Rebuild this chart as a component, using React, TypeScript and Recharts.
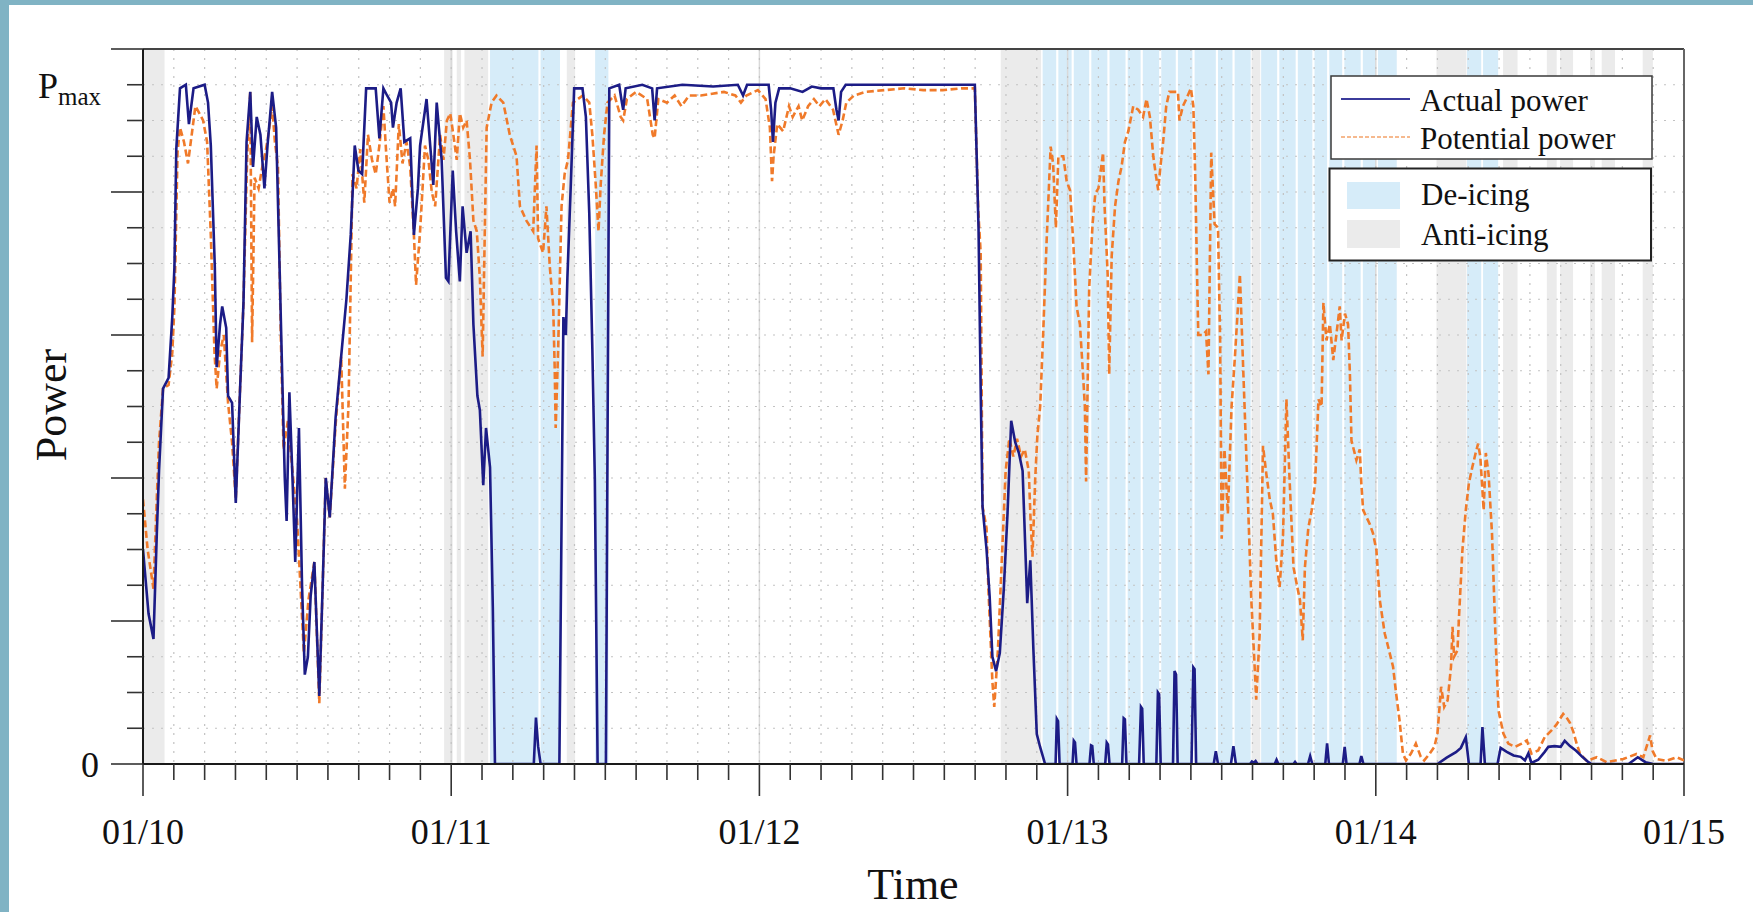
import { LineChart, Line, XAxis, YAxis, CartesianGrid, ReferenceArea, ReferenceLine } from 'recharts';

// x = days since 01/10 00:00, y = power in grid units (Pmax sits at 19, frame top at 20)
const dayLabels = ['01/10', '01/11', '01/12', '01/13', '01/14', '01/15'];
const PMAX = 19;
const Y_TOP = 20;

const actualPower: [number, number][] = [
  [0, 6.0], [0.018, 4.2], [0.034, 3.5], [0.045, 6.5], [0.052, 8.2], [0.065, 10.5], [0.083, 10.8], [0.095, 12.5],
  [0.102, 13.9], [0.108, 17.2], [0.12, 18.9], [0.139, 19.0], [0.149, 17.9], [0.164, 18.9], [0.2, 19.0], [0.211, 18.5],
  [0.22, 17.3], [0.233, 13.9], [0.239, 11.1], [0.25, 12.3], [0.257, 12.8], [0.27, 12.2], [0.276, 10.3], [0.289, 10.1],
  [0.301, 7.3], [0.315, 10.5], [0.326, 12.9], [0.336, 17.4], [0.348, 18.8], [0.357, 16.7], [0.369, 18.1], [0.381, 17.6],
  [0.394, 16.1], [0.404, 17.3], [0.419, 18.8], [0.432, 17.8], [0.44, 15.0], [0.453, 10.4], [0.46, 8.0], [0.466, 6.8],
  [0.475, 10.4], [0.485, 8.0], [0.494, 5.65], [0.506, 9.4], [0.516, 5.0], [0.525, 2.5], [0.535, 3.0], [0.544, 4.7],
  [0.556, 5.65], [0.565, 3.5], [0.572, 1.9], [0.583, 5.0], [0.593, 8.0], [0.606, 6.9], [0.625, 9.7], [0.643, 11.4],
  [0.66, 13.0], [0.674, 14.8], [0.687, 17.3], [0.699, 16.6], [0.711, 16.5], [0.724, 18.9], [0.755, 18.9], [0.767, 17.5],
  [0.78, 18.9], [0.792, 18.7], [0.805, 18.5], [0.811, 17.8], [0.823, 18.5], [0.836, 18.9], [0.848, 17.4], [0.867, 17.5],
  [0.879, 14.8], [0.892, 16.1], [0.899, 17.3], [0.92, 18.6], [0.942, 16.2], [0.953, 18.5], [0.969, 16.9], [0.983, 13.6],
  [0.991, 13.5], [1.005, 16.6], [1.016, 14.9], [1.028, 13.5], [1.037, 15.6], [1.05, 14.3], [1.063, 14.9], [1.072, 12.3],
  [1.085, 10.3], [1.093, 9.9], [1.104, 7.8], [1.113, 9.4], [1.126, 8.3], [1.135, 4.4], [1.142, 0], [1.268, 0],
  [1.275, 1.3], [1.282, 0.5], [1.29, 0], [1.351, 0], [1.364, 12.5], [1.372, 12.0], [1.377, 13.6], [1.388, 16.2],
  [1.399, 18.9], [1.426, 18.9], [1.437, 18.1], [1.448, 15.4], [1.458, 11.6], [1.466, 8.0], [1.475, 0], [1.502, 0],
  [1.513, 18.9], [1.545, 19.0], [1.552, 18.6], [1.558, 18.3], [1.566, 18.9], [1.62, 19.0], [1.652, 18.9], [1.66, 18.0],
  [1.668, 18.9], [1.75, 19.0], [1.85, 18.95], [1.93, 19.0], [1.947, 18.7], [1.96, 19.0], [2.03, 19.0], [2.038, 18.3],
  [2.044, 17.4], [2.052, 18.5], [2.064, 18.9], [2.1, 18.9], [2.14, 18.8], [2.17, 18.95], [2.2, 18.9], [2.24, 18.9],
  [2.25, 18.3], [2.257, 18.0], [2.265, 18.8], [2.28, 19.0], [2.699, 19.0], [2.711, 15.0], [2.718, 10.5], [2.724, 7.2],
  [2.737, 6.0], [2.747, 4.7], [2.756, 3.0], [2.768, 2.6], [2.78, 3.1], [2.793, 4.9], [2.805, 7.0], [2.817, 9.6],
  [2.83, 9.0], [2.842, 8.7], [2.854, 8.2], [2.869, 4.5], [2.879, 5.7], [2.889, 3.2], [2.9, 0.84], [2.911, 0.47],
  [2.927, 0], [2.961, 0], [2.965, 1.26], [2.969, 1.2], [2.974, 0], [3.016, 0], [3.02, 0.65], [3.024, 0.6],
  [3.029, 0], [3.071, 0], [3.076, 0.52], [3.08, 0.5], [3.085, 0], [3.122, 0], [3.127, 0.6], [3.131, 0.55],
  [3.136, 0], [3.177, 0], [3.182, 1.28], [3.186, 1.25], [3.191, 0], [3.232, 0], [3.238, 1.6], [3.242, 1.55],
  [3.247, 0], [3.288, 0], [3.293, 2.0], [3.297, 1.95], [3.302, 0], [3.342, 0], [3.347, 2.6], [3.352, 2.5],
  [3.357, 0], [3.402, 0], [3.408, 2.7], [3.412, 2.65], [3.417, 0], [3.474, 0], [3.481, 0.36], [3.488, 0],
  [3.53, 0], [3.538, 0.5], [3.546, 0], [3.592, 0], [3.598, 0.07], [3.604, 0.03], [3.61, 0.08], [3.616, 0],
  [3.672, 0], [3.678, 0.12], [3.684, 0], [3.733, 0], [3.738, 0.06], [3.743, 0], [3.78, 0], [3.787, 0.22],
  [3.794, 0], [3.836, 0], [3.842, 0.58], [3.848, 0], [3.893, 0], [3.899, 0.48], [3.905, 0], [3.947, 0],
  [3.953, 0.22], [3.96, 0], [4.2, 0], [4.23, 0.18], [4.26, 0.33], [4.276, 0.45], [4.292, 0.75], [4.302, 0],
  [4.34, 0], [4.346, 1.03], [4.354, 0], [4.395, 0], [4.405, 0.45], [4.425, 0.34], [4.447, 0.24], [4.47, 0.2],
  [4.484, 0.1], [4.495, 0.3], [4.505, 0.03], [4.527, 0.12], [4.548, 0.34], [4.56, 0.48], [4.58, 0.5], [4.6, 0.48],
  [4.613, 0.65], [4.63, 0.5], [4.65, 0.37], [4.67, 0.2], [4.69, 0.05], [4.7, 0], [4.82, 0], [4.85, 0.19],
  [4.875, 0.05], [4.9, 0], [5, 0],
];

const potentialPower: [number, number][] = [
  [0, 7.4], [0.015, 6.0], [0.034, 4.9], [0.045, 7.5], [0.052, 9.0], [0.065, 10.5], [0.083, 10.6], [0.095, 11.5],
  [0.102, 12.8], [0.112, 17.1], [0.12, 17.8], [0.133, 17.4], [0.146, 16.8], [0.158, 17.6], [0.17, 18.4], [0.183, 18.2],
  [0.195, 18.0], [0.208, 17.4], [0.22, 14.8], [0.232, 11.5], [0.239, 10.5], [0.25, 11.5], [0.262, 12.0], [0.276, 10.1],
  [0.289, 9.0], [0.301, 7.4], [0.315, 10.5], [0.326, 12.9], [0.338, 17.0], [0.348, 18.8], [0.354, 11.8], [0.362, 16.4],
  [0.375, 16.1], [0.387, 16.7], [0.397, 17.1], [0.405, 17.5], [0.419, 18.4], [0.428, 17.4], [0.438, 16.7], [0.447, 12.0],
  [0.456, 8.8], [0.47, 9.6], [0.5, 6.8], [0.522, 3.1], [0.537, 4.6], [0.556, 5.65], [0.572, 1.7], [0.593, 8.0],
  [0.606, 6.9], [0.625, 9.5], [0.643, 11.4], [0.655, 7.7], [0.667, 10.1], [0.68, 16.5], [0.693, 16.1], [0.705, 17.2],
  [0.718, 15.7], [0.73, 17.6], [0.743, 16.9], [0.755, 16.5], [0.767, 17.3], [0.78, 18.4], [0.789, 17.1], [0.8, 15.7],
  [0.811, 16.1], [0.818, 15.6], [0.83, 17.9], [0.842, 16.8], [0.855, 17.4], [0.867, 16.7], [0.879, 14.8], [0.886, 13.4],
  [0.899, 14.9], [0.915, 17.3], [0.926, 16.9], [0.937, 16.0], [0.948, 15.6], [0.964, 17.6], [0.975, 16.9], [0.986, 18.0],
  [0.997, 18.2], [1.007, 17.6], [1.018, 16.9], [1.028, 18.2], [1.039, 17.8], [1.05, 18.0], [1.061, 16.9], [1.072, 15.2],
  [1.083, 14.9], [1.093, 13.6], [1.102, 11.4], [1.109, 14.9], [1.115, 17.8], [1.131, 18.5], [1.147, 18.7], [1.169, 18.5],
  [1.19, 17.6], [1.212, 17.0], [1.223, 15.6], [1.244, 15.2], [1.266, 14.9], [1.277, 17.3], [1.282, 14.7], [1.298, 14.3],
  [1.309, 15.6], [1.32, 13.9], [1.331, 12.8], [1.336, 11.0], [1.339, 9.4], [1.347, 11.6], [1.358, 15.6], [1.368, 16.5],
  [1.379, 16.9], [1.395, 18.5], [1.427, 18.7], [1.448, 18.5], [1.458, 17.6], [1.469, 16.2], [1.478, 14.9], [1.485, 16.2],
  [1.496, 17.6], [1.507, 18.5], [1.53, 18.7], [1.55, 18.1], [1.558, 18.0], [1.57, 18.6], [1.6, 18.8], [1.636, 18.6],
  [1.654, 17.6], [1.66, 17.5], [1.672, 18.6], [1.7, 18.5], [1.725, 18.7], [1.747, 18.4], [1.772, 18.7], [1.81, 18.7],
  [1.847, 18.75], [1.885, 18.8], [1.922, 18.7], [1.94, 18.5], [1.958, 18.7], [1.995, 18.85], [2.02, 18.6], [2.034, 17.8],
  [2.041, 16.3], [2.046, 17.0], [2.058, 17.9], [2.077, 17.7], [2.096, 18.4], [2.108, 18.1], [2.127, 18.4], [2.139, 18.0],
  [2.158, 18.4], [2.177, 18.6], [2.195, 18.4], [2.214, 18.6], [2.239, 18.3], [2.257, 17.6], [2.27, 18.0], [2.282, 18.5],
  [2.307, 18.7], [2.345, 18.8], [2.407, 18.85], [2.47, 18.9], [2.532, 18.85], [2.595, 18.85], [2.657, 18.9], [2.699, 18.9],
  [2.71, 15.5], [2.718, 14.3], [2.724, 7.2], [2.737, 6.6], [2.743, 4.9], [2.756, 2.3], [2.762, 1.6], [2.774, 3.2],
  [2.787, 5.8], [2.799, 8.2], [2.811, 9.1], [2.824, 8.6], [2.836, 9.1], [2.849, 8.6], [2.861, 8.8], [2.874, 8.2],
  [2.88, 6.8], [2.886, 5.8], [2.895, 8.0], [2.902, 9.2], [2.911, 10.0], [2.921, 12.1], [2.932, 14.65], [2.945, 17.27],
  [2.953, 16.8], [2.962, 15.0], [2.97, 17.0], [2.986, 17.0], [2.997, 16.3], [3.008, 16.05], [3.018, 14.65], [3.029, 12.8],
  [3.04, 12.3], [3.05, 10.9], [3.056, 10.0], [3.06, 7.9], [3.07, 13.3], [3.081, 15.1], [3.09, 15.96], [3.1, 16.1],
  [3.115, 17.1], [3.12, 15.6], [3.13, 13.7], [3.135, 10.9], [3.143, 14.2], [3.154, 15.6], [3.165, 16.3], [3.175, 16.7],
  [3.186, 17.4], [3.197, 17.7], [3.213, 18.4], [3.229, 18.3], [3.245, 18.1], [3.256, 18.6], [3.267, 18.1], [3.278, 17.0],
  [3.286, 16.5], [3.294, 16.05], [3.301, 16.7], [3.31, 17.4], [3.32, 18.4], [3.33, 18.8], [3.347, 18.8], [3.358, 18.8],
  [3.363, 18.0], [3.374, 18.4], [3.385, 18.6], [3.4, 18.9], [3.408, 18.4], [3.414, 16.5], [3.42, 13.7], [3.424, 12.0],
  [3.438, 12.0], [3.449, 12.1], [3.457, 10.9], [3.466, 17.1], [3.477, 15.1], [3.488, 15.0], [3.495, 11.8], [3.5, 6.3],
  [3.509, 8.8], [3.52, 7.0], [3.532, 10.0], [3.543, 11.4], [3.559, 13.7], [3.57, 11.0], [3.585, 7.4], [3.596, 4.6],
  [3.607, 2.7], [3.612, 1.8], [3.623, 3.6], [3.634, 8.9], [3.645, 8.1], [3.656, 7.4], [3.666, 7.0], [3.677, 5.7],
  [3.688, 4.95], [3.699, 6.4], [3.71, 10.2], [3.72, 8.0], [3.733, 5.5], [3.743, 5.05], [3.754, 4.58], [3.763, 3.46],
  [3.77, 5.5], [3.781, 6.6], [3.792, 7.1], [3.803, 7.85], [3.814, 10.2], [3.824, 10.0], [3.83, 12.9], [3.84, 11.85],
  [3.851, 12.3], [3.862, 11.3], [3.872, 12.0], [3.883, 12.8], [3.889, 11.85], [3.9, 12.6], [3.91, 12.3], [3.916, 10.9],
  [3.921, 9.05], [3.937, 8.5], [3.948, 8.8], [3.953, 7.85], [3.959, 7.1], [3.981, 6.7], [3.991, 6.45], [4.002, 5.98],
  [4.013, 4.58], [4.029, 3.65], [4.04, 3.28], [4.056, 2.72], [4.066, 1.97], [4.077, 1.22], [4.088, 0.29], [4.098, 0.1],
  [4.114, 0.29], [4.13, 0.57], [4.146, 0.2], [4.157, 0.1], [4.175, 0.29], [4.19, 0.48], [4.2, 0.85], [4.212, 2.16],
  [4.222, 1.6], [4.233, 1.78], [4.244, 2.72], [4.249, 3.84], [4.254, 3.0], [4.265, 3.18], [4.27, 4.12], [4.281, 5.98],
  [4.292, 7.1], [4.302, 7.85], [4.313, 8.3], [4.324, 8.7], [4.332, 8.96], [4.339, 8.6], [4.35, 7.1], [4.357, 8.7],
  [4.366, 8.1], [4.377, 6.45], [4.388, 3.65], [4.398, 1.5], [4.414, 0.85], [4.43, 0.57], [4.452, 0.48], [4.473, 0.57],
  [4.49, 0.66], [4.505, 0.29], [4.527, 0.38], [4.548, 0.75], [4.57, 0.94], [4.586, 1.1], [4.608, 1.4], [4.619, 1.3],
  [4.63, 1.15], [4.641, 0.9], [4.652, 0.56], [4.663, 0.28], [4.684, 0.09], [4.717, 0.19], [4.749, 0.05], [4.803, 0.14],
  [4.846, 0.28], [4.868, 0.19], [4.89, 0.8], [4.898, 0.37], [4.911, 0.14], [4.943, 0.09], [4.976, 0.19], [5, 0.1],
];

const deIcing: [number, number][] = [
  [1.126, 1.283], [1.29, 1.353], [1.467, 1.51],
  [2.919, 2.963], [2.97, 3.013], [3.02, 3.07], [3.077, 3.129], [3.136, 3.188], [3.195, 3.237], [3.244, 3.297],
  [3.304, 3.351], [3.358, 3.405], [3.412, 3.481], [3.488, 3.535], [3.542, 3.594], [3.628, 3.68], [3.687, 3.74],
  [3.747, 3.794], [3.801, 3.842], [3.849, 3.891], [3.898, 3.951], [3.958, 4.0], [4.007, 4.068],
  [4.296, 4.342], [4.348, 4.397],
];

const antiIcing: [number, number][] = [
  [0, 0.07], [0.977, 1.005], [1.018, 1.032], [1.043, 1.12], [1.375, 1.402], [2.783, 2.914], [3.597, 3.625],
  [4.197, 4.294], [4.413, 4.46], [4.555, 4.587], [4.598, 4.64], [4.695, 4.711], [4.733, 4.776], [4.866, 4.899],
];

const actualData = actualPower.map(([t, p]) => ({ t, p }));
const potentialData = potentialPower.map(([t, p]) => ({ t, p }));
const xTicks = Array.from({ length: 51 }, (_, i) => i / 10);
const yTicks = Array.from({ length: Y_TOP + 1 }, (_, i) => i);

const BLUE = '#1c1c86';
const ORANGE = '#f07a2a';
const DEICE = '#d6ecf9';
const ANTI = '#ebebeb';
const FONT = "'Liberation Serif', 'Times New Roman', serif";

const XTick = (props: any) => {
  const { x, y, payload } = props;
  const v = payload.value as number;
  const major = Math.abs(v - Math.round(v)) < 1e-6;
  return (
    <g>
      <line x1={x} x2={x} y1={y} y2={y + (major ? 32 : 16)} stroke="#333" strokeWidth={1.6} />
      {major && (
        <text x={x} y={y + 80} textAnchor="middle" fontSize={36} fill="#111" fontFamily={FONT}>
          {dayLabels[Math.round(v)]}
        </text>
      )}
    </g>
  );
};

const YTick = (props: any) => {
  const { x, y, payload } = props;
  const v = payload.value as number;
  const major = v % 4 === 0;
  return (
    <g>
      <line x1={x - (major ? 32 : 16)} x2={x} y1={y} y2={y} stroke="#333" strokeWidth={1.6} />
      {v === 0 && (
        <text x={x - 44} y={y + 13} textAnchor="end" fontSize={36} fill="#111" fontFamily={FONT}>0</text>
      )}
      {v === PMAX && (
        <text x={x - 105} y={y + 13} fill="#111" fontFamily={FONT}>
          <tspan fontSize={36}>P</tspan>
          <tspan fontSize={25} dy={7}>max</tspan>
        </text>
      )}
    </g>
  );
};

export default function App() {
  return (
    <div style={{ position: 'fixed', left: 0, top: 0, width: 1753, height: 912, background: '#80b3c4' }}>
      <div style={{ position: 'absolute', left: 9, top: 5, width: 1744, height: 907, background: '#fff' }} />
      <div style={{ position: 'absolute', left: 0, top: 0 }}>
        <LineChart width={1753} height={912} margin={{ top: 49, right: 69, bottom: 48, left: 43 }}>
          {antiIcing.map(([a, b], i) => (
            <ReferenceArea key={`a${i}`} x1={a} x2={b} y1={0} y2={Y_TOP} fill={ANTI} fillOpacity={1} stroke="none" zIndex={-150} />
          ))}
          {deIcing.map(([a, b], i) => (
            <ReferenceArea key={`d${i}`} x1={a} x2={b} y1={0} y2={Y_TOP} fill={DEICE} fillOpacity={1} stroke="none" zIndex={-150} />
          ))}
          {[1, 2, 3, 4].map((d) => (
            <ReferenceLine key={`day${d}`} x={d} stroke="#d9d9d9" strokeWidth={1.5} zIndex={-120} />
          ))}
          <CartesianGrid stroke="#c2c2c2" strokeDasharray="2 7" strokeWidth={1.2} />
          <XAxis
            type="number"
            dataKey="t"
            domain={[0, 5]}
            ticks={xTicks}
            interval={0}
            tick={<XTick />}
            tickLine={false}
            tickSize={0}
            tickMargin={0}
            height={100}
            axisLine={{ stroke: '#1a1a1a', strokeWidth: 2 }}
            allowDataOverflow
          />
          <YAxis
            type="number"
            domain={[0, Y_TOP]}
            ticks={yTicks}
            interval={0}
            tick={<YTick />}
            tickLine={false}
            tickSize={0}
            tickMargin={0}
            width={100}
            axisLine={{ stroke: '#1a1a1a', strokeWidth: 2 }}
            allowDataOverflow
          />
          <ReferenceLine y={Y_TOP} stroke="#444" strokeWidth={2} />
          <ReferenceLine x={5} stroke="#666" strokeWidth={2} />
          <Line
            data={potentialData}
            dataKey="p"
            type="linear"
            stroke={ORANGE}
            strokeWidth={2.6}
            strokeDasharray="7 3.5"
            dot={false}
            isAnimationActive={false}
          />
          <Line
            data={actualData}
            dataKey="p"
            type="linear"
            stroke={BLUE}
            strokeWidth={2.6}
            dot={false}
            isAnimationActive={false}
          />
        </LineChart>
      </div>
      <svg width={1753} height={912} style={{ position: 'absolute', left: 0, top: 0, pointerEvents: 'none' }} fontFamily={FONT}>
        <text x={913} y={899} textAnchor="middle" fontSize={44} fill="#111">Time</text>
        <text x={66} y={405} textAnchor="middle" fontSize={44} fill="#111" transform="rotate(-90 66 405)">Power</text>

        <rect x={1331} y={76} width={321} height={83} fill="#fff" stroke="#3a3a3a" strokeWidth={1.5} />
        <line x1={1341} x2={1410} y1={99} y2={99} stroke="#3b3b9b" strokeWidth={2} />
        <text x={1420} y={111} fontSize={31} fill="#111">Actual power</text>
        <line x1={1341} x2={1410} y1={137} y2={137} stroke="#f4a36a" strokeWidth={1.6} strokeDasharray="4 2" />
        <text x={1420} y={149} fontSize={31} fill="#111">Potential power</text>

        <rect x={1329.5} y={168.5} width={321.5} height={92} fill="#fff" stroke="#222" strokeWidth={2} />
        <rect x={1347} y={182} width={53} height={27} fill={DEICE} />
        <text x={1421} y={205} fontSize={31} fill="#111">De-icing</text>
        <rect x={1347} y={220} width={53} height={28} fill={ANTI} />
        <text x={1421} y={245} fontSize={31} fill="#111">Anti-icing</text>
      </svg>
    </div>
  );
}
